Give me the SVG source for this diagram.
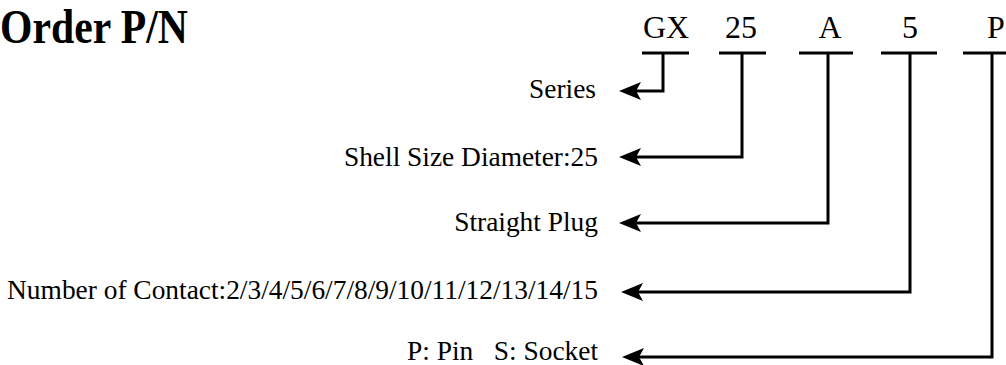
<svg xmlns="http://www.w3.org/2000/svg" width="1006" height="365" viewBox="0 0 1006 365">
  <style>
    .title { font-family: "Liberation Serif", "Times New Roman", serif; font-weight: bold; font-size: 49px; fill: #000; }
    .code { font-family: "Liberation Serif", "Times New Roman", serif; font-size: 32px; fill: #000; text-anchor: middle; }
    .label { font-family: "Liberation Serif", "Times New Roman", serif; font-size: 27.4px; fill: #000; text-anchor: end; }
    .bar { stroke: #000; stroke-width: 3; fill: none; }
    .conn { stroke: #000; stroke-width: 3; fill: none; marker-end: url(#arrow); }
  </style>
  <defs>
    <marker id="arrow" markerUnits="userSpaceOnUse" markerWidth="24" markerHeight="20" viewBox="0 -10 24 20" refX="12" refY="0" orient="auto">
      <path d="M0,-9 L22,0 L0,9 L5,0 Z" fill="#000"/>
    </marker>
  </defs>
  <rect width="1006" height="365" fill="#fff"/>

  <g id="title">
    <text class="title" font-family="Liberation Serif, serif" x="0" y="43" textLength="188" lengthAdjust="spacingAndGlyphs">Order P/N</text>
  </g>

  <g id="code-gx">
    <text class="code" font-family="Liberation Serif, serif" x="666" y="38">GX</text>
    <line class="bar" x1="642" y1="53" x2="689" y2="53"/>
  </g>
  <g id="code-25">
    <text class="code" font-family="Liberation Serif, serif" x="741" y="38">25</text>
    <line class="bar" x1="719" y1="53" x2="766" y2="53"/>
  </g>
  <g id="code-a">
    <text class="code" font-family="Liberation Serif, serif" x="830" y="38">A</text>
    <line class="bar" x1="799" y1="53" x2="853" y2="53"/>
  </g>
  <g id="code-5">
    <text class="code" font-family="Liberation Serif, serif" x="910" y="38">5</text>
    <line class="bar" x1="881" y1="53" x2="937" y2="53"/>
  </g>
  <g id="code-p">
    <text class="code" font-family="Liberation Serif, serif" x="996" y="38">P</text>
    <line class="bar" x1="963" y1="53" x2="1010" y2="53"/>
  </g>

  <g id="label-series">
    <text class="label" font-family="Liberation Serif, serif" x="596" y="98">Series</text>
  </g>
  <g id="label-shell">
    <text class="label" font-family="Liberation Serif, serif" x="598" y="166">Shell Size Diameter:25</text>
  </g>
  <g id="label-plug">
    <text class="label" font-family="Liberation Serif, serif" x="598" y="231">Straight Plug</text>
  </g>
  <g id="label-contact">
    <text class="label" font-family="Liberation Serif, serif" x="598" y="299">Number of Contact:2/3/4/5/6/7/8/9/10/11/12/13/14/15</text>
  </g>
  <g id="label-pin">
    <text class="label" font-family="Liberation Serif, serif" x="598" y="360" xml:space="preserve">P: Pin   S: Socket</text>
  </g>

  <g id="connectors">
    <polyline class="conn" points="663,53 663,91 629,91"/>
    <polyline class="conn" points="742,53 742,157 629,157"/>
    <polyline class="conn" points="828,53 828,223 629,223"/>
    <polyline class="conn" points="910,53 910,292 631,292"/>
    <polyline class="conn" points="992,53 992,357 632,357"/>
  </g>
</svg>
